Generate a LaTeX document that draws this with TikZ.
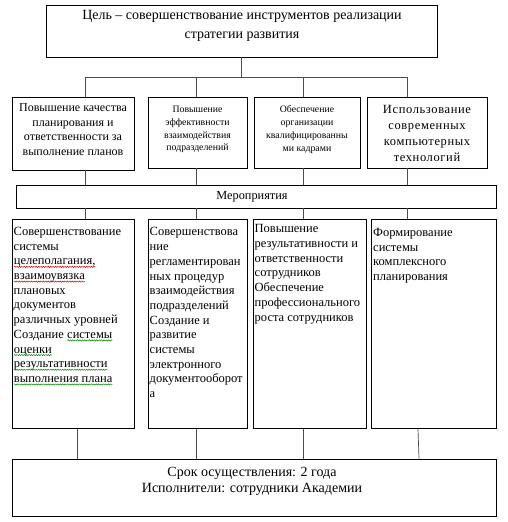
\documentclass[tikz,border=0pt]{standalone}
\usepackage{fontspec}
\setmainfont{Liberation Serif}
\usetikzlibrary{decorations.pathmorphing}
\tikzset{
  blk/.style={draw=black, line width=0.7pt, inner sep=0pt},
  lnk/.style={draw=black!70, line width=0.7pt},
  txt/.style={inner sep=0pt, align=center},
  lefttxt/.style={inner sep=0pt, align=left, anchor=north west},
}
% wavy spell-check mark under a word
\newcommand{\spellmark}[2]{\tikz[baseline=(sw.base)]{\node[inner sep=0pt, outer sep=0pt] (sw) {#2};
  \draw[#1, line width=0.5pt, decorate, decoration={snake, amplitude=0.6pt, segment length=2.4pt}] ([yshift=-2pt]sw.base west) -- ([yshift=-2pt]sw.base east);}}
\colorlet{spred}{red!85!black}
\colorlet{spgreen}{green!55!black}
\begin{document}
\begin{tikzpicture}[x=1pt,y=-1pt]
\useasboundingbox (0,0) rectangle (507,522);
% goal
\node[blk, minimum width=391pt, minimum height=52pt] (goal) at (241.5,31) {};
\draw (242,26) node[txt, font=\fontsize{14}{19}\selectfont] (goalt) {Цель – совершенствование инструментов реализации\\стратегии развития};
% directions
\node[blk, minimum width=122pt, minimum height=73pt] (b1) at (73,133.5) {};
\node[blk, minimum width=99pt, minimum height=71pt] (b2) at (197.5,132.5) {};
\node[blk, minimum width=106pt, minimum height=71pt] (b3) at (307,132.5) {};
\node[blk, minimum width=120pt, minimum height=71pt] (b4) at (427,132.5) {};
\draw (73,129.5) node[txt, font=\fontsize{12}{14.7}\selectfont] (b1t) {Повышение качества\\планирования и\\ответственности за\\выполнение планов};
\draw (197.5,129.5) node[txt, font=\fontsize{9.8}{12.7}\selectfont] (b2t) {Повышение\\эффективности\\взаимодействия\\подразделений};
\draw (307,129.5) node[txt, font=\fontsize{9.8}{12.7}\selectfont] (b3t) {Обеспечение\\организации\\квалифицированны\\ми кадрами};
\draw (427,133.5) node[txt, font=\fontsize{12.5}{16}\selectfont\addfontfeature{LetterSpace=5}] (b4t) {Использование\\современных\\компьютерных\\технологий};
% measures
\node[blk, minimum width=480pt, minimum height=23pt] (mer) at (256,196.5) {};
\draw (252,197) node[txt, font=\fontsize{12.3}{14}\selectfont] (mert) {Мероприятия};
\node[blk, minimum width=122pt, minimum height=209pt, anchor=north west] (m1) at (12,219) {};
\node[blk, minimum width=99pt, minimum height=209pt, anchor=north west] (m2) at (148,219) {};
\node[blk, minimum width=113pt, minimum height=209pt, anchor=north west] (m3) at (253,219) {};
\node[blk, minimum width=125pt, minimum height=209pt, anchor=north west] (m4) at (371,219) {};
\begin{scope}[every node/.append style={font=\fontsize{12.5}{14.7}\selectfont}]
\node[lefttxt] (m1t) at ([shift={(1.5,8)}]m1.north west) {Совершенствование\\системы\\\spellmark{spred}{целеполагания,}\\\spellmark{spred}{взаимоувязка}\\плановых\\документов\\различных уровней\\Создание \spellmark{spgreen}{системы}\\\spellmark{spgreen}{оценки}\\\spellmark{spgreen}{результативности}\\\spellmark{spgreen}{выполнения плана}};
\node[lefttxt] (m2t) at ([shift={(1.5,8.5)}]m2.north west) {Совершенствова\\ние\\регламентирован\\ных процедур\\взаимодействия\\подразделений\\Создание и\\развитие\\системы\\электронного\\документооборот\\а};
\node[lefttxt] (m3t) at ([shift={(1.5,5.5)}]m3.north west) {Повышение\\результативности и\\ответственности\\сотрудников\\Обеспечение\\профессионального\\роста сотрудников};
\node[lefttxt] (m4t) at ([shift={(2,9)}]m4.north west) {Формирование\\системы\\комплексного\\планирования};
\end{scope}
% term
\node[blk, minimum width=484pt, minimum height=57pt] (term) at (254,487.5) {};
\draw (252,481.5) node[txt, font=\fontsize{14}{16}\selectfont] (termt) {Срок осуществления: 2 года\\Исполнители: сотрудники Академии};
% connectors
\coordinate (hub) at (goal.south |- 0,77);
\coordinate (j1) at (85,77);
\coordinate (j2) at (196,77);
\coordinate (j3) at (303,77);
\coordinate (j4) at (407,77);
\draw[lnk] (goal.south) -- (hub);
\draw[lnk] (j1) -- (j4);
\draw[lnk] (j1) -- (j1 |- b1.north);
\draw[lnk] (j2) -- (j2 |- b2.north);
\draw[lnk] (j3) -- (j3 |- b3.north);
\draw[lnk] (j4) -- (j4 |- b4.north);
\draw[lnk] (j1 |- b1.south) -- (j1 |- mer.north);
\draw[lnk] (j2 |- b2.south) -- (j2 |- mer.north);
\draw[lnk] (j3 |- b3.south) -- (j3 |- mer.north);
\draw[lnk] (j4 |- b4.south) -- (j4 |- mer.north);
\draw[lnk] (j1 |- mer.south) -- (j1 |- m1.north);
\draw[lnk] (j2 |- mer.south) -- (j2 |- m2.north);
\draw[lnk] (j3 |- mer.south) -- (j3 |- m3.north);
\draw[lnk] (j4 |- mer.south) -- (j4 |- m4.north);
\draw[lnk] (77,0 |- m1.south) -- (77,0 |- term.north);
\draw[lnk] (j2 |- m2.south) -- (j2 |- term.north);
\draw[lnk] (j3 |- m3.south) -- (j3 |- term.north);
\draw[lnk] (418,0 |- m4.south) -- (419,0 |- term.north);
\end{tikzpicture}
\end{document}
